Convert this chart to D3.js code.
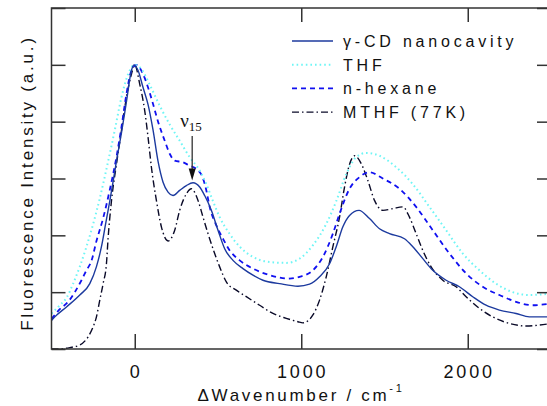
<!DOCTYPE html>
<html>
<head>
<meta charset="utf-8">
<script src="https://cdn.jsdelivr.net/npm/d3@7"></script>
<style>
body { margin: 0; background: #fff; }
text { font-family: "Liberation Sans", Arial, sans-serif; fill: #111; }
</style>
</head>
<body>
<div id="vis"></div>
<script>
const width = 547;
const height = 406;

// [wavenumber, intensity]
const gammaCD = [[-500,0.10],[-480,0.113],[-410,0.148],[-330,0.19],[-270,0.23],[-230,0.29],[-200,0.36],[-175,0.44],[-150,0.52],[-110,0.66],[-80,0.76],[-50,0.87],[-20,0.98],[-5,1.0],[20,0.98],[50,0.92],[80,0.86],[110,0.77],[140,0.66],[170,0.587],[200,0.552],[230,0.54],[270,0.558],[310,0.575],[350,0.585],[390,0.57],[420,0.54],[460,0.488],[500,0.418],[540,0.353],[590,0.312],[650,0.283],[710,0.26],[770,0.242],[870,0.23],[980,0.221],[1050,0.228],[1110,0.254],[1170,0.30],[1210,0.36],[1250,0.43],[1290,0.47],[1347,0.488],[1410,0.459],[1470,0.423],[1530,0.406],[1620,0.388],[1670,0.36],[1730,0.318],[1790,0.277],[1870,0.242],[1950,0.219],[2030,0.184],[2110,0.154],[2190,0.137],[2290,0.125],[2370,0.113],[2500,0.113]];

const thf = [[-500,0.125],[-450,0.154],[-410,0.18],[-370,0.23],[-330,0.29],[-290,0.36],[-210,0.53],[-160,0.66],[-120,0.77],[-80,0.885],[-40,0.967],[0,1.0],[40,0.985],[90,0.93],[150,0.856],[210,0.79],[270,0.733],[330,0.675],[390,0.628],[430,0.58],[470,0.52],[510,0.464],[570,0.405],[630,0.36],[710,0.324],[810,0.306],[910,0.303],[990,0.318],[1070,0.365],[1150,0.44],[1210,0.52],[1270,0.615],[1330,0.675],[1390,0.69],[1470,0.68],[1570,0.64],[1670,0.58],[1770,0.50],[1870,0.418],[1970,0.336],[2070,0.277],[2170,0.23],[2270,0.20],[2370,0.19],[2500,0.195]];

const nHexane = [[-500,0.105],[-450,0.14],[-400,0.166],[-360,0.20],[-320,0.242],[-290,0.277],[-260,0.31],[-230,0.38],[-190,0.46],[-150,0.56],[-110,0.675],[-80,0.78],[-50,0.897],[-20,0.98],[10,1.0],[50,0.967],[80,0.92],[110,0.862],[140,0.80],[180,0.733],[210,0.687],[240,0.663],[290,0.657],[330,0.645],[370,0.634],[410,0.60],[430,0.558],[450,0.50],[490,0.435],[530,0.388],[570,0.347],[630,0.312],[710,0.283],[810,0.26],[930,0.248],[990,0.254],[1070,0.277],[1130,0.324],[1190,0.406],[1230,0.476],[1290,0.564],[1350,0.605],[1410,0.622],[1490,0.60],[1590,0.564],[1690,0.50],[1790,0.418],[1890,0.336],[1990,0.266],[2090,0.219],[2190,0.19],[2290,0.166],[2390,0.154],[2500,0.16]];

const mthf = [[-500,0.0],[-460,0.0],[-390,0.005],[-330,0.014],[-280,0.043],[-250,0.078],[-230,0.113],[-210,0.172],[-190,0.23],[-170,0.30],[-160,0.39],[-140,0.52],[-110,0.65],[-80,0.768],[-50,0.885],[-20,0.967],[0,1.0],[30,0.932],[60,0.838],[80,0.745],[100,0.64],[130,0.523],[160,0.43],[200,0.38],[240,0.418],[270,0.488],[310,0.546],[340,0.564],[380,0.523],[410,0.464],[440,0.406],[480,0.336],[510,0.289],[550,0.236],[610,0.207],[670,0.184],[750,0.154],[830,0.125],[910,0.108],[980,0.096],[1010,0.092],[1070,0.12],[1110,0.172],[1150,0.254],[1190,0.36],[1230,0.464],[1260,0.57],[1290,0.65],[1320,0.68],[1370,0.64],[1400,0.593],[1440,0.523],[1490,0.488],[1550,0.494],[1610,0.50],[1650,0.464],[1690,0.406],[1730,0.347],[1780,0.289],[1850,0.242],[1930,0.219],[1990,0.184],[2070,0.143],[2150,0.113],[2250,0.09],[2350,0.081],[2500,0.09]];

const labels = ["γ-CD nanocavity", "THF", "n-hexane", "MTHF (77K)"];
const xTicks = [0, 1000, 2000];
const yTicks = [0, 0.2, 0.4, 0.6, 0.8, 1.0, 1.2];
const peak = {x: 345, top: 0.75, tip: 0.593};

const series = [
	{name: labels[0], data: gammaCD, color: "#1c3a9e", dash: null, w: 1.4},
	{name: labels[1], data: thf, color: "#6ff5f5", dash: "1.6,3", w: 2},
	{name: labels[2], data: nHexane, color: "#1010f0", dash: "5,4", w: 1.8},
	{name: labels[3], data: mthf, color: "#0a0a28", dash: "7,3,1.5,3", w: 1.4}
];

const m = {left: 51.5, top: 8, right: 551, bottom: 349};

const x = d3.scaleLinear().domain([-500, 2500]).range([m.left, m.right]);
const y = d3.scaleLinear().domain([0, 1.2]).range([m.bottom, m.top]);

const svg = d3.select("#vis").append("svg")
	.attr("width", width)
	.attr("height", height);

svg.append("clipPath").attr("id", "clip")
	.append("rect")
		.attr("x", m.left).attr("y", m.top)
		.attr("width", m.right - m.left).attr("height", m.bottom - m.top);

const line = d3.line()
	.x(d => x(d[0]))
	.y(d => y(d[1]))
	.curve(d3.curveMonotoneX);

svg.append("g").attr("clip-path", "url(#clip)")
	.selectAll("path")
	.data(series.slice().reverse())
	.enter()
	.append("path")
		.attr("d", d => line(d.data))
		.attr("fill", "none")
		.attr("stroke", d => d.color)
		.attr("stroke-width", d => d.w)
		.attr("stroke-dasharray", d => d.dash);

// box + inward ticks
const axisColor = "#333";
svg.append("rect")
	.attr("x", m.left).attr("y", m.top)
	.attr("width", m.right - m.left).attr("height", m.bottom - m.top)
	.attr("fill", "none").attr("stroke", axisColor).attr("stroke-width", 1.5);

svg.append("g")
	.attr("transform", `translate(0,${m.bottom})`)
	.call(d3.axisBottom(x).tickValues(xTicks).tickSizeInner(-15).tickSizeOuter(0).tickFormat(""))
	.call(g => g.select(".domain").remove());
svg.append("g")
	.attr("transform", `translate(0,${m.top})`)
	.call(d3.axisTop(x).tickValues(xTicks).tickSizeInner(-14).tickSizeOuter(0).tickFormat(""))
	.call(g => g.select(".domain").remove());
svg.append("g")
	.attr("transform", `translate(${m.left},0)`)
	.call(d3.axisLeft(y).tickValues(yTicks).tickSizeInner(-14).tickSizeOuter(0).tickFormat(""))
	.call(g => g.select(".domain").remove());
svg.append("g")
	.attr("transform", `translate(${m.right},0)`)
	.call(d3.axisRight(y).tickValues(yTicks).tickSizeInner(-14).tickSizeOuter(0).tickFormat(""))
	.call(g => g.select(".domain").remove());
svg.selectAll(".tick line").attr("stroke", axisColor).attr("stroke-width", 1.5);

// tick labels
svg.selectAll("text.xlab")
	.data(xTicks)
	.enter()
	.append("text")
		.attr("class", "xlab")
		.attr("x", d => x(d) + 1.4)
		.attr("y", 378)
		.attr("text-anchor", "middle")
		.style("font-size", "18px")
		.style("letter-spacing", "2.8px")
		.text(d => d);

// axis titles
const xt = svg.append("text")
	.attr("x", 301)
	.attr("y", 401)
	.attr("text-anchor", "middle")
	.style("font-size", "17px")
	.style("letter-spacing", "2.7px");
xt.append("tspan").text("ΔWavenumber / cm");
xt.append("tspan").attr("dy", -9).style("font-size", "11px").text("-1");

svg.append("text")
	.attr("transform", "translate(33,183) rotate(-90)")
	.attr("text-anchor", "middle")
	.style("font-size", "17px")
	.style("letter-spacing", "2.8px")
	.text("Fluorescence Intensity (a.u.)");

// legend
const legend = svg.append("g");
series.forEach((s, i) => {
	const ly = 41 + i * 23.7;
	legend.append("line")
		.attr("x1", 292).attr("x2", 333)
		.attr("y1", ly).attr("y2", ly)
		.attr("stroke", s.color)
		.attr("stroke-width", s.w)
		.attr("stroke-dasharray", s.dash);
	legend.append("text")
		.attr("x", 343)
		.attr("y", ly + 6)
		.style("font-size", "16px")
		.style("letter-spacing", "3.8px")
		.text(s.name);
});

// ν15 annotation
svg.append("line")
	.attr("x1", x(peak.x)).attr("x2", x(peak.x))
	.attr("y1", y(peak.top)).attr("y2", y(peak.tip) - 10)
	.attr("stroke", "#333").attr("stroke-width", 1.3);
svg.append("path")
	.attr("d", `M${x(peak.x) - 3.5},${y(peak.tip) - 12} L${x(peak.x) + 3.5},${y(peak.tip) - 12} L${x(peak.x)},${y(peak.tip)} Z`)
	.attr("fill", "#111");
const nu = svg.append("text")
	.attr("x", x(peak.x) - 12)
	.attr("y", y(peak.top) - 9)
	.style("font-family", "'Liberation Serif', 'Times New Roman', serif")
	.style("font-size", "19px");
nu.append("tspan").text("ν");
nu.append("tspan").attr("dy", 4).style("font-size", "13px").text("15");
</script>
</body>
</html>
